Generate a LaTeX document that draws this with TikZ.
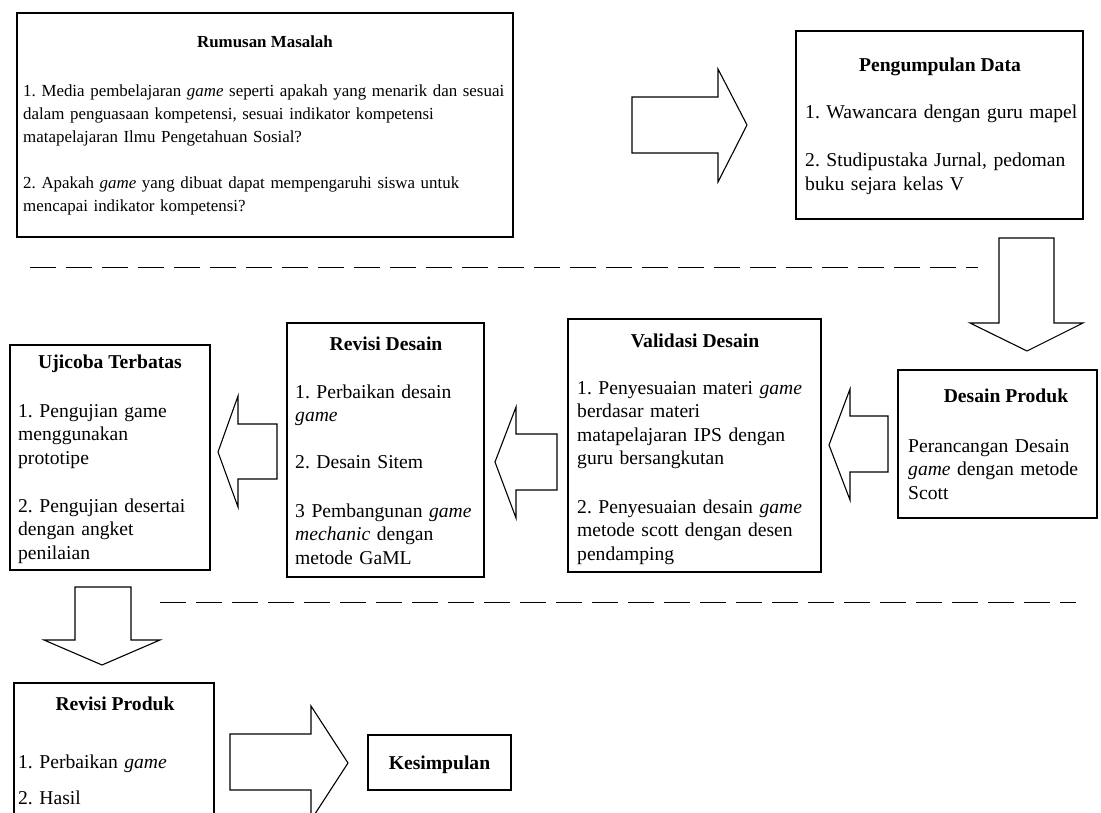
\documentclass[tikz,border=0pt]{standalone}
\usepackage{fontspec}
\setmainfont{Liberation Serif}
\begin{document}
\frenchspacing
\begin{tikzpicture}[x=1pt,y=-1pt,
  box/.style={draw=black,line width=1.1pt,fill=white,rectangle,inner sep=0pt,outer sep=0pt},
  barrow/.style={draw=black,line width=1.1pt,fill=white,line join=miter},
  sep/.style={draw=black,line width=1pt,dash pattern=on 26pt off 10pt},
  ttl/.style={font=\fontsize{19.6}{23.5}\selectfont\bfseries,inner sep=0pt,anchor=base},
  txt/.style={font=\fontsize{19.6}{23.5}\selectfont,inner sep=0pt,anchor=base west,text width=#1,align=left},
  rttl/.style={font=\fontsize{16.9}{23}\selectfont\bfseries,inner sep=0pt,anchor=base},
  rtxt/.style={font=\fontsize{16.9}{23}\selectfont,inner sep=0pt,anchor=base west,text width=#1,align=left},
]
\useasboundingbox (0,0) rectangle (1101,813);
\fill[white] (0,0) rectangle (1101,813);

% boxes
\node[box,minimum width=496pt,minimum height=224pt] (rm) at (265,125) {};
\node[box,minimum width=287pt,minimum height=188pt] (pd) at (939.5,125) {};
\node[box,minimum width=199pt,minimum height=148pt] (dp) at (997.5,444) {};
\node[box,minimum width=253pt,minimum height=253pt] (vd) at (694.5,445.5) {};
\node[box,minimum width=197pt,minimum height=254pt] (rd) at (385.5,450) {};
\node[box,minimum width=200pt,minimum height=225pt] (ut) at (110,457.5) {};
\node[box,minimum width=200pt,minimum height=147pt] (rp) at (114,756.5) {};
\node[box,minimum width=143pt,minimum height=55pt] (ks) at (439.5,762.5) {};

% block arrows
\draw[barrow] (632,97) -- (718,97) -- (718,69) -- (747,125) -- (718,182) -- (718,153) -- (632,153) -- cycle;
\draw[barrow] (999,238) -- (1054,238) -- (1054,323) -- (1083,323) -- (1027,351) -- (970,323) -- (999,323) -- cycle;
\draw[barrow] (888,416) -- (850,416) -- (850,389) -- (829,445) -- (850,500) -- (850,472) -- (888,472) -- cycle;
\draw[barrow] (557,434) -- (516,434) -- (516,407) -- (495,462) -- (516,518) -- (516,490) -- (557,490) -- cycle;
\draw[barrow] (277,424) -- (238,424) -- (238,396) -- (218,452) -- (238,507) -- (238,479) -- (277,479) -- cycle;
\draw[barrow] (75,587) -- (131,587) -- (131,640) -- (160,640) -- (102,665) -- (44,640) -- (75,640) -- cycle;
\draw[barrow] (230,734) -- (311,734) -- (311,706) -- (348,763) -- (311,820) -- (311,790) -- (230,790) -- cycle;

% dashed separators
\coordinate (s1a) at (30,268);
\coordinate (s1b) at (978,268);
\coordinate (s2a) at (160,602);
\coordinate (s2b) at (1076,602);
\draw[sep] (s1a) -- (s1b);
\draw[sep] (s2a) -- (s2b);

% Rumusan Masalah
\node[rttl] (rmT) at (265,48) {Rumusan Masalah};
\node[rtxt=520pt] (rm1) at (23,97) {1. Media pembelajaran \textit{game} seperti apakah yang menarik dan sesuai\\dalam penguasaan kompetensi, sesuai indikator kompetensi\\matapelajaran Ilmu Pengetahuan Sosial?};
\node[rtxt=520pt] (rm2) at (23,189) {2. Apakah \textit{game} yang dibuat dapat mempengaruhi siswa untuk\\mencapai indikator kompetensi?};

% Pengumpulan Data
\node[ttl] (pdT) at (940,72) {Pengumpulan Data};
\node[txt=300pt] (pd1) at (805,119) {1. Wawancara dengan guru mapel};
\node[txt=300pt] (pd2) at (805,167) {2. Studipustaka Jurnal, pedoman\\buku sejara kelas V};

% Desain Produk
\node[ttl] (dpT) at (1006,402) {Desain Produk};
\node[txt=200pt] (dp1) at (908,452) {Perancangan Desain\\\textit{game} dengan metode\\Scott};

% Validasi Desain
\node[ttl] (vdT) at (695,347) {Validasi Desain};
\node[txt=260pt] (vd1) at (577,394) {1. Penyesuaian materi \textit{game}\\berdasar materi\\matapelajaran IPS dengan\\guru bersangkutan};
\node[txt=260pt] (vd2) at (577,513) {2. Penyesuaian desain \textit{game}\\metode scott dengan desen\\pendamping};

% Revisi Desain
\node[ttl] (rdT) at (386,350) {Revisi Desain};
\node[txt=200pt] (rd1) at (295,398) {1. Perbaikan desain\\\textit{game}};
\node[txt=200pt] (rd2) at (295,468) {2. Desain Sitem};
\node[txt=200pt] (rd3) at (295,517) {3 Pembangunan \textit{game}\\\textit{mechanic} dengan\\metode GaML};

% Ujicoba Terbatas
\node[ttl] (utT) at (110,368) {Ujicoba Terbatas};
\node[txt=200pt] (ut1) at (18,417) {1. Pengujian game\\menggunakan\\prototipe};
\node[txt=200pt] (ut2) at (18,512) {2. Pengujian desertai\\dengan angket\\penilaian};

% Revisi Produk
\node[ttl] (rpT) at (115,710) {Revisi Produk};
\node[txt=200pt] (rp1) at (18,768) {1. Perbaikan \textit{game}};
\node[txt=200pt] (rp2) at (18,804) {2. Hasil};

% Kesimpulan
\node[ttl] (ksT) at (439.5,769) {Kesimpulan};
\end{tikzpicture}
\end{document}
